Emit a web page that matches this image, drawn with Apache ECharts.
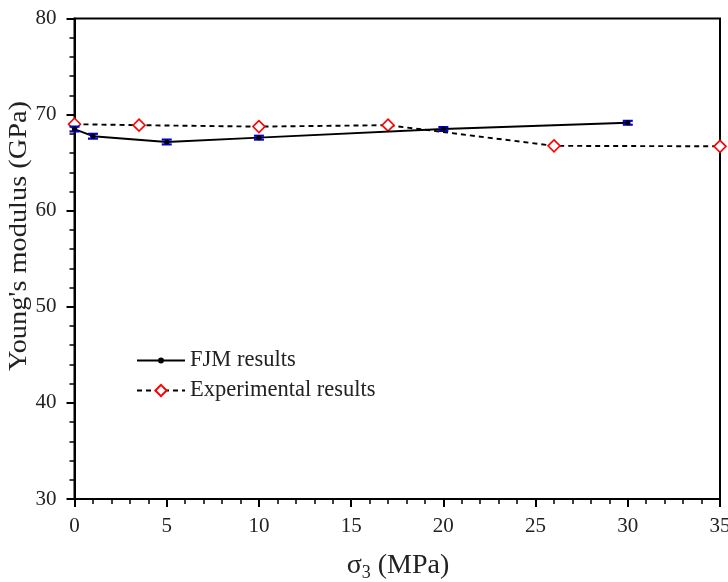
<!DOCTYPE html>
<html>
<head>
<meta charset="utf-8">
<script src="https://cdn.jsdelivr.net/npm/echarts@6/dist/echarts.min.js"></script>
<style>html,body{margin:0;padding:0;background:#fff}#c{width:728px;height:582px}</style>
</head>
<body>
<div id="c"></div>
<script>
var fjmX = [0, 1, 5, 10, 20, 30];
var fjmY = [68.5, 67.75, 67.15, 67.6, 68.5, 69.15];
var fjmErr = [0.25, 0.25, 0.25, 0.2, 0.2, 0.2];
var expX = [0, 3.5, 10, 17, 26, 35];
var expY = [69.0, 68.9, 68.75, 68.9, 66.75, 66.7];
var xTicks = [0, 5, 10, 15, 20, 25, 30, 35];
var yTicks = [30, 40, 50, 60, 70, 80];

var FONT = '"Liberation Serif", "Times New Roman", serif';
var chart = echarts.init(document.getElementById('c'));

var fjmData = fjmX.map(function (x, i) { return [x, fjmY[i]]; });
var expData = expX.map(function (x, i) { return [x, expY[i]]; });
var errData = fjmX.map(function (x, i) { return [x, fjmY[i] - fjmErr[i], fjmY[i] + fjmErr[i]]; });

var axisCommon = {
  axisLine: { show: true, onZero: false, lineStyle: { color: '#000', width: 2 } },
  axisTick: { show: true, inside: false, length: 8, lineStyle: { color: '#000', width: 2 } },
  minorTick: { show: true, splitNumber: 5, length: 5, lineStyle: { color: '#000', width: 1.5 } },
  splitLine: { show: false },
  axisLabel: { fontFamily: FONT, fontSize: 21, color: '#222' }
};

chart.setOption({
  animation: false,
  backgroundColor: '#fff',
  grid: { left: 74.5, right: 8, top: 18.5, bottom: 83, show: true, borderColor: '#000', borderWidth: 2, outerBoundsMode: 'none', containLabel: false },
  legend: {
    orient: 'vertical', left: 131, top: 344, itemWidth: 48, itemHeight: 14, itemGap: 7,
    textStyle: { fontFamily: FONT, fontSize: 22.5, color: '#222' },
    data: [
      { name: 'FJM results', icon: 'path://M0,6.1L48,6.1L48,7.9L0,7.9Z M27,7A3,3 0 1 1 21,7A3,3 0 1 1 27,7Z' },
      { name: 'Experimental results' }
    ]
  },
  graphic: [
    {
      type: 'text', x: 19, y: 236, rotation: Math.PI / 2, scaleX: 1.09,
      style: { text: "Young's modulus (GPa)", font: '26px ' + FONT, fill: '#222', textAlign: 'center', textVerticalAlign: 'middle' }
    },
    {
      type: 'text', x: 398, y: 566,
      style: {
        text: '{s|σ}{sub|3}{s| (MPa)}', textAlign: 'center', textVerticalAlign: 'middle',
        rich: {
          s: { fontFamily: FONT, fontSize: 28, fill: '#222' },
          sub: { fontFamily: FONT, fontSize: 18, fill: '#222', verticalAlign: 'bottom', padding: [14, 0, 0, 0] }
        }
      }
    }
  ],
  xAxis: Object.assign({}, axisCommon, {
    type: 'value', min: 0, max: 35, interval: 5,
    axisLabel: Object.assign({}, axisCommon.axisLabel, { margin: 17, formatter: function (v) { return xTicks.indexOf(v) >= 0 ? String(v) : ''; } })
  }),
  yAxis: Object.assign({}, axisCommon, {
    type: 'value', min: 30, max: 80, interval: 10,
    axisLabel: Object.assign({}, axisCommon.axisLabel, { margin: 18, formatter: function (v) { return yTicks.indexOf(v) >= 0 ? String(v) : ''; } })
  }),
  series: [
    {
      name: 'Experimental results', type: 'line', data: expData,
      lineStyle: { color: '#000', width: 1.9, type: [5, 4] },
      symbol: 'diamond', symbolSize: 12,
      itemStyle: { color: '#fff', borderColor: '#ff0000', borderWidth: 1.6 },
      z: 3
    },
    {
      name: 'FJM results', type: 'line', data: fjmData,
      lineStyle: { color: '#000', width: 1.9 },
      symbol: 'circle', symbolSize: 5, showSymbol: true,
      itemStyle: { color: '#000' },
      z: 4
    },
    {
      name: 'err', type: 'custom', data: errData, z: 5,
      renderItem: function (params, api) {
        var lo = api.coord([api.value(0), api.value(1)]);
        var hi = api.coord([api.value(0), api.value(2)]);
        var w = 5;
        var st = { stroke: '#0000dd', lineWidth: 2.2 };
        return {
          type: 'group',
          children: [
            { type: 'line', shape: { x1: lo[0], y1: lo[1], x2: hi[0], y2: hi[1] }, style: st },
            { type: 'line', shape: { x1: lo[0] - w, y1: lo[1], x2: lo[0] + w, y2: lo[1] }, style: st },
            { type: 'line', shape: { x1: hi[0] - w, y1: hi[1], x2: hi[0] + w, y2: hi[1] }, style: st },
            { type: 'circle', shape: { cx: (lo[0] + hi[0]) / 2, cy: (lo[1] + hi[1]) / 2, r: 2.5 }, style: { fill: '#000' } }
          ]
        };
      }
    }
  ]
});
</script>
</body>
</html>
